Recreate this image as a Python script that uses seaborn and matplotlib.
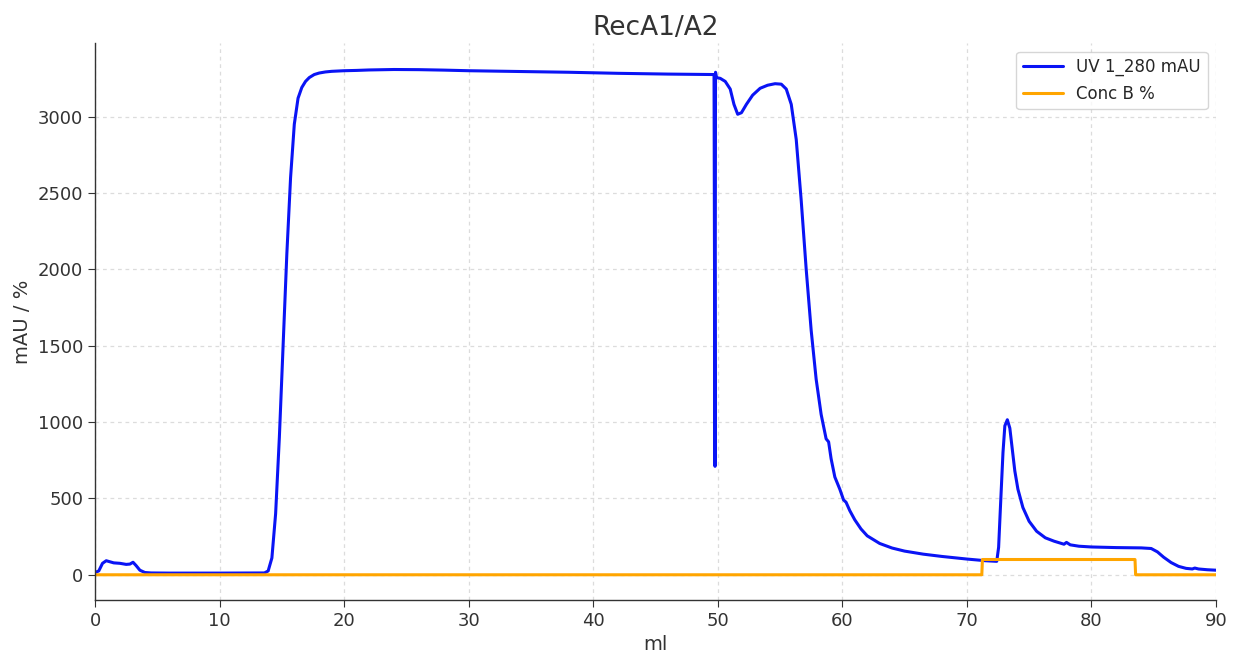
import numpy as np
import pandas as pd
import matplotlib
matplotlib.use("Agg")
import matplotlib.pyplot as plt
import seaborn as sns

# UV 1_280 trace (ml, mAU)
uv_ml = [0.0, 0.3, 0.6, 0.9, 1.2, 1.5, 2.0, 2.5, 2.8, 3.05, 3.3, 3.6, 4.0, 4.5, 6.0,
         10.0, 13.6, 13.9, 14.2, 14.5, 14.8, 15.1, 15.4, 15.7, 16.0, 16.3, 16.6,
         16.9, 17.2, 17.6, 18.0, 18.5, 19.0, 20.0, 21.0, 22.0, 24.0, 26.0, 28.0,
         30.0, 34.0, 38.0, 42.0, 46.0, 49.7, 49.78, 49.82, 49.9, 50.2, 50.6, 51.0,
         51.3, 51.6, 51.9, 52.3, 52.8, 53.4, 54.0, 54.6, 55.1, 55.5, 55.9, 56.3,
         56.7, 57.1, 57.5, 57.9, 58.3, 58.7, 58.9, 59.1, 59.4, 59.8, 60.1, 60.3,
         60.6, 61.0, 61.5, 62.0, 63.0, 64.0, 65.0, 66.5, 68.0, 70.0, 71.5, 72.4,
         72.55, 72.7, 72.9, 73.05, 73.25, 73.45, 73.65, 73.85, 74.1, 74.5, 75.0,
         75.6, 76.3, 77.0, 77.8, 78.0, 78.3, 79.0, 80.0, 82.0, 84.0, 84.8, 85.3,
         85.8, 86.4, 87.0, 87.6, 88.1, 88.3, 88.6, 89.3, 90.0]
uv_mau = [15, 25, 75, 92, 85, 78, 75, 68, 70, 82, 60, 30, 15, 12, 11,
          11, 12, 25, 110, 400, 900, 1500, 2100, 2600, 2950, 3120, 3190,
          3230, 3255, 3275, 3285, 3292, 3296, 3300, 3302, 3305, 3308, 3307, 3304,
          3300, 3295, 3290, 3283, 3278, 3275, 710, 3290, 3255, 3250, 3230, 3180,
          3080, 3015, 3025, 3080, 3140, 3185, 3205, 3215, 3212, 3180, 3080, 2850,
          2450, 2000, 1600, 1280, 1050, 890, 870, 760, 640, 560, 490, 475,
          420, 360, 300, 255, 205, 175, 155, 135, 120, 103, 92, 88,
          180, 450, 800, 975, 1015, 960, 820, 680, 560, 440, 350,
          285, 242, 220, 200, 212, 196, 187, 182, 178, 176, 172, 150,
          115, 80, 55, 42, 38, 44, 38, 33, 30]

# Conc B step profile (ml, %)
conc_ml = [0.0, 71.2, 71.25, 83.5, 83.55, 90.0]
conc_pct = [0, 0, 100, 100, 0, 0]

uv = pd.DataFrame({"ml": uv_ml, "value": uv_mau})
conc = pd.DataFrame({"ml": conc_ml, "value": conc_pct})

sns.set_style("whitegrid")
plt.rcParams["font.family"] = ["DejaVu Sans"]

fig = plt.figure(figsize=(12.39, 6.55), dpi=100)
ax = fig.add_axes([0.0767, 0.084, 0.9047, 0.85])

sns.lineplot(data=uv, x="ml", y="value", ax=ax, color="#0a14f5", linewidth=2.2,
             label="UV 1_280 mAU", sort=False)
sns.lineplot(data=conc, x="ml", y="value", ax=ax, color="#ffa500", linewidth=2.2,
             label="Conc B %", sort=False)

ax.set_xlim(0, 90)
ax.set_ylim(-165, 3480)
ax.set_xticks(range(0, 91, 10))
ax.set_yticks(range(0, 3001, 500))
ax.grid(True, linestyle=(0, (3, 3)), color="#dcdcdc", linewidth=0.9)
ax.set_facecolor("white")
for side in ["top", "right"]:
    ax.spines[side].set_visible(False)
for side in ["left", "bottom"]:
    ax.spines[side].set_color("#333333")
    ax.spines[side].set_linewidth(1.0)
ax.tick_params(axis="both", labelsize=13, colors="#333333", length=5,
               left=True, bottom=True, direction="out")
ax.set_xlabel("ml", fontsize=14, color="#333333")
ax.set_ylabel("mAU / %", fontsize=14, color="#333333")
ax.set_title("RecA1/A2", fontsize=19, color="#333333")
ax.legend(loc="upper right", fontsize=12, frameon=True, edgecolor="#cccccc",
          handlelength=2.4)

fig.savefig("out.png", dpi=100)
